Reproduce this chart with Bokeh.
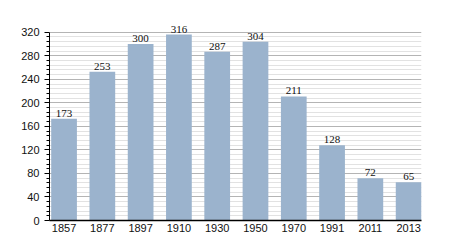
from bokeh.plotting import figure
from bokeh.models import ColumnDataSource, Range1d, FixedTicker, LabelSet
from bokeh.embed import file_html
from bokeh.resources import INLINE

years = ["1857", "1877", "1897", "1910", "1930", "1950", "1970", "1991", "2011", "2013"]
population = [173, 253, 300, 316, 287, 304, 211, 128, 72, 65]
y_major = [0, 40, 80, 120, 160, 200, 240, 280, 320]
y_minor = [v for v in range(0, 321, 8) if v % 40 != 0]

pos = list(range(len(years)))
src = ColumnDataSource(dict(x=pos, top=population, label=[str(v) for v in population]))

p = figure(width=450, height=250, output_backend="svg", toolbar_location=None,
           x_range=Range1d(-0.38, 9.336), y_range=Range1d(0, 340),
           min_border_left=49, min_border_right=29, min_border_top=20, min_border_bottom=30)
p.outline_line_color = None
p.background_fill_color = "white"
p.border_fill_color = "white"

p.vbar(x="x", top="top", width=0.672, bottom=0, source=src,
       fill_color="#9bb3cd", line_color=None)

labels = LabelSet(x="x", y="top", text="label", source=src, text_align="center",
                  text_baseline="bottom", y_offset=2, text_font="Liberation Sans",
                  text_font_size="11px", text_color="#111111")
p.add_layout(labels)

# y axis
p.yaxis.ticker = FixedTicker(ticks=y_major, minor_ticks=y_minor)
p.yaxis.bounds = (0, 320)
p.yaxis.axis_line_color = "black"
p.yaxis.major_tick_out = 5
p.yaxis.major_tick_in = 0
p.yaxis.minor_tick_out = 3
p.yaxis.minor_tick_in = 0
p.yaxis.major_tick_line_color = "black"
p.yaxis.minor_tick_line_color = "black"
p.yaxis.major_label_standoff = 5
p.yaxis.major_label_text_font = "Liberation Sans"
p.yaxis.major_label_text_font_size = "11px"
p.yaxis.major_label_text_color = "#111111"

# x axis
p.xaxis.ticker = FixedTicker(ticks=pos)
p.xaxis.major_label_overrides = {i: y for i, y in zip(pos, years)}
p.xaxis.major_tick_line_color = None
p.xaxis.major_tick_out = 0
p.xaxis.major_tick_in = 0
p.xaxis.minor_tick_line_color = None
p.xaxis.axis_line_color = "black"
p.xaxis.axis_line_width = 1.5
p.xaxis.major_label_standoff = 3
p.xaxis.major_label_text_font = "Liberation Sans"
p.xaxis.major_label_text_font_size = "11px"
p.xaxis.major_label_text_color = "#111111"

# grids
p.xgrid.grid_line_color = None
p.ygrid.grid_line_color = "#b4b4b4"
p.ygrid.minor_grid_line_color = "#e2e2e2"

open("out.html", "w").write(file_html(p, INLINE))
